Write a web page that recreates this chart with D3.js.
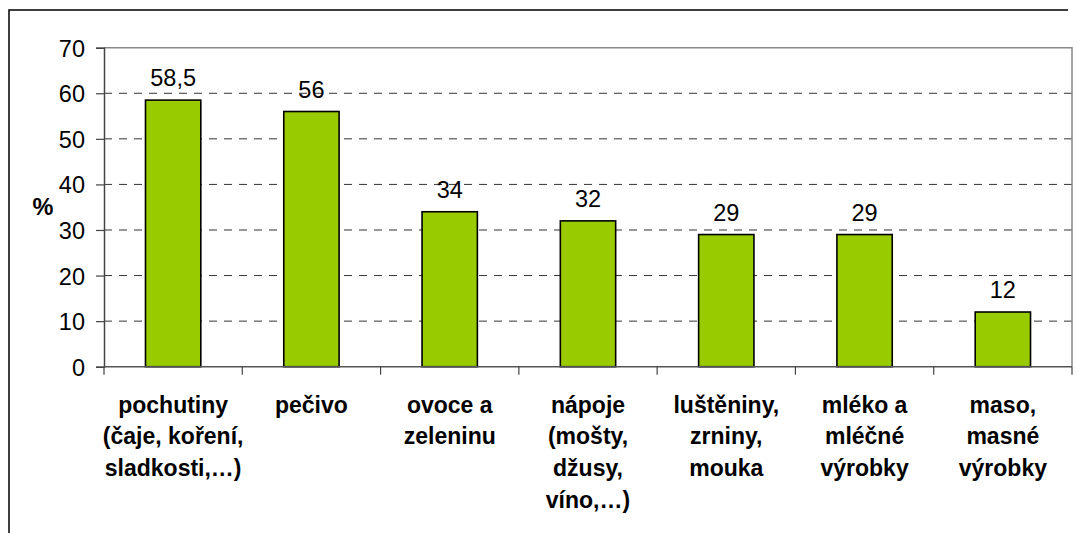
<!DOCTYPE html>
<html>
<head>
<meta charset="utf-8">
<script src="https://cdn.jsdelivr.net/npm/d3@7"></script>
<style>
  html, body { margin: 0; padding: 0; background: #fff; }
  svg { display: block; font-family: "Liberation Sans", Arial, sans-serif; }
</style>
</head>
<body>
<svg id="chart" width="1077" height="533"></svg>
<script>
// Category labels (each entry is a list of wrapped lines)
const categories = [
  ["pochutiny", "(čaje, koření,", "sladkosti,…)"],
  ["pečivo"],
  ["ovoce a", "zeleninu"],
  ["nápoje", "(mošty,", "džusy,", "víno,…)"],
  ["luštěniny,", "zrniny,", "mouka"],
  ["mléko a", "mléčné", "výrobky"],
  ["maso,", "masné", "výrobky"]
];
const values = [58.5, 56, 34, 32, 29, 29, 12];
const valueLabels = ["58,5", "56", "34", "32", "29", "29", "12"];
const yTicks = [0, 10, 20, 30, 40, 50, 60, 70];
const yTitle = "%";

const svg = d3.select("#chart");

// outer frame (left and top edges)
svg.append("path")
  .attr("d", "M9,533 V10 H1068")
  .attr("fill", "none")
  .attr("stroke", "#000")
  .attr("stroke-width", 1.5);

const plot = { left: 104, right: 1072, top: 47.7, bottom: 366.7 };

const x = d3.scaleBand()
  .domain(d3.range(categories.length))
  .range([plot.left, plot.right])
  .paddingInner(0.6)
  .paddingOuter(0.3);

const xBand = d3.scaleBand()
  .domain(d3.range(categories.length))
  .range([plot.left, plot.right]);

const y = d3.scaleLinear().domain([0, 70]).range([plot.bottom, plot.top]);

// dashed gridlines
svg.append("g")
  .selectAll("line")
  .data(yTicks.filter(t => t > 0 && t < 70))
  .join("line")
  .attr("x1", plot.left).attr("x2", plot.right)
  .attr("y1", d => y(d)).attr("y2", d => y(d))
  .attr("stroke", "#333")
  .attr("stroke-width", 1)
  .attr("stroke-dasharray", "8,7");

// plot area border (top and right)
svg.append("path")
  .attr("d", `M${plot.left},${plot.top} H${plot.right} V${plot.bottom}`)
  .attr("fill", "none")
  .attr("stroke", "#888")
  .attr("stroke-width", 1.5);

// bars
svg.append("g")
  .selectAll("rect")
  .data(values)
  .join("rect")
  .attr("x", (d, i) => x(i))
  .attr("width", x.bandwidth())
  .attr("y", d => y(d))
  .attr("height", d => y(0) - y(d))
  .attr("fill", "#99CC00")
  .attr("stroke", "#000")
  .attr("stroke-width", 1.6);

// value labels
svg.append("g")
  .selectAll("text")
  .data(values)
  .join("text")
  .attr("x", (d, i) => x(i) + x.bandwidth() / 2)
  .attr("y", d => y(d) - 14)
  .attr("text-anchor", "middle")
  .attr("font-size", 23.5)
  .attr("fill", "#000")
  .text((d, i) => valueLabels[i]);

// y axis
const yAxis = d3.axisLeft(y).tickValues(yTicks).tickSize(8).tickPadding(11).tickFormat(d3.format("d"));
const gy = svg.append("g")
  .attr("transform", `translate(${plot.left},0)`)
  .call(yAxis);
gy.select(".domain").attr("stroke", "#444").attr("stroke-width", 1.5);
gy.selectAll(".tick line").attr("stroke", "#444").attr("stroke-width", 1.2);
gy.selectAll(".tick text")
  .attr("font-size", 23.5)
  .attr("font-family", "'Liberation Sans', Arial, sans-serif")
  .attr("fill", "#000")
  .attr("dy", "0.36em");

// x axis: ticks at category boundaries
const boundaries = d3.range(categories.length + 1).map(i =>
  i < categories.length ? xBand(i) : plot.right);
const gx = svg.append("g");
gx.append("line")
  .attr("x1", plot.left).attr("x2", plot.right)
  .attr("y1", plot.bottom).attr("y2", plot.bottom)
  .attr("stroke", "#555").attr("stroke-width", 1.5);
gx.selectAll("line.tick")
  .data(boundaries)
  .join("line")
  .attr("class", "tick")
  .attr("x1", d => d).attr("x2", d => d)
  .attr("y1", plot.bottom).attr("y2", plot.bottom + 8)
  .attr("stroke", "#444").attr("stroke-width", 1.2);

// category labels
const lab = svg.append("g")
  .selectAll("text")
  .data(categories)
  .join("text")
  .attr("text-anchor", "middle")
  .attr("font-size", 23)
  .attr("font-weight", "bold")
  .attr("fill", "#000")
  .attr("transform", (d, i) => `translate(${xBand(i) + xBand.bandwidth() / 2},${plot.bottom + 46})`);
lab.selectAll("tspan")
  .data(d => d)
  .join("tspan")
  .attr("x", 0)
  .attr("y", (d, j) => j * 31.8)
  .text(d => d);

// y title
svg.append("text")
  .attr("x", 43)
  .attr("y", 215)
  .attr("text-anchor", "middle")
  .attr("font-size", 23.5)
  .attr("font-weight", "bold")
  .text(yTitle);
</script>
</body>
</html>
